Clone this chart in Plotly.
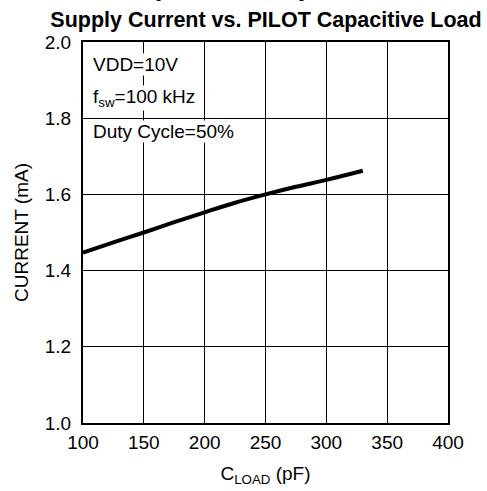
import plotly.graph_objects as go

# Supply current vs. PILOT capacitive load
c_load_pf = [100, 125, 150, 175, 200, 225, 250, 275, 300, 330]
current_ma = [1.447, 1.474, 1.500, 1.527, 1.553, 1.578, 1.600, 1.620, 1.638, 1.662]

x_ticks = [100, 150, 200, 250, 300, 350, 400]
y_ticks = [1.0, 1.2, 1.4, 1.6, 1.8, 2.0]

conditions = ["VDD=10V", "f<sub>sw</sub>=100 kHz", "Duty Cycle=50%"]

FONT = "Arial, Liberation Sans, sans-serif"
W, H = 487, 491
L, R, T, B = 83, 39, 42, 68
PH = H - T - B

fig = go.Figure()

fig.add_trace(go.Scatter(
    x=c_load_pf, y=current_ma,
    mode="lines", line_shape="spline",
    line=dict(color="black", width=4),
    showlegend=False,
))

# Condition labels, white box hides the grid behind the text
for i, txt in enumerate(conditions):
    fig.add_annotation(
        x=0.026, y=0.94 - i * 0.088, xref="paper", yref="paper",
        xanchor="left", yanchor="middle",
        text=txt, showarrow=False,
        font=dict(family=FONT, size=19, color="black"),
        bgcolor="white", borderpad=0,
    )

# Page header, cut off by the top edge
fig.add_annotation(
    xref="paper", yref="paper",
    x=(310 - L) / (W - L - R), y=1.0 + (T - 2.5) / PH,
    xanchor="right", yanchor="bottom",
    text="<b>TYPICAL CHARACTERISTICS (Continued)</b>",
    showarrow=False,
    font=dict(family=FONT, size=28, color="black"),
)

axis_common = dict(
    showline=True, linecolor="black", linewidth=2, mirror=True,
    showgrid=True, gridcolor="black", gridwidth=1.3,
    zeroline=False, ticks="", automargin=False,
    tickfont=dict(family=FONT, size=19, color="black"),
)

fig.update_layout(
    width=W, height=H,
    margin=dict(l=L, r=R, t=T, b=B),
    paper_bgcolor="white", plot_bgcolor="white",
    title=dict(
        text="<b>Supply Current vs. PILOT Capacitive Load</b>",
        x=266 / W, xanchor="center", y=1 - 19 / H, yanchor="middle",
        font=dict(family=FONT, size=21.5, color="black"),
    ),
    xaxis=dict(
        range=[100, 400], tickvals=x_ticks, ticklabelstandoff=1,
        title=dict(text="C<sub>LOAD</sub> (pF)", standoff=15,
                   font=dict(family=FONT, size=19, color="black")),
        **axis_common,
    ),
    yaxis=dict(
        range=[1.0, 2.0], tickvals=y_ticks, tickformat=".1f",
        ticklabelstandoff=6,
        title=dict(text="CURRENT (mA)", standoff=11,
                   font=dict(family=FONT, size=19, color="black")),
        **axis_common,
    ),
)

# drop the default page margin so the figure sits at the window corner
fig.write_html(
    "out.html",
    config={"displayModeBar": False},
    post_script="document.body.style.margin='0';",
)
